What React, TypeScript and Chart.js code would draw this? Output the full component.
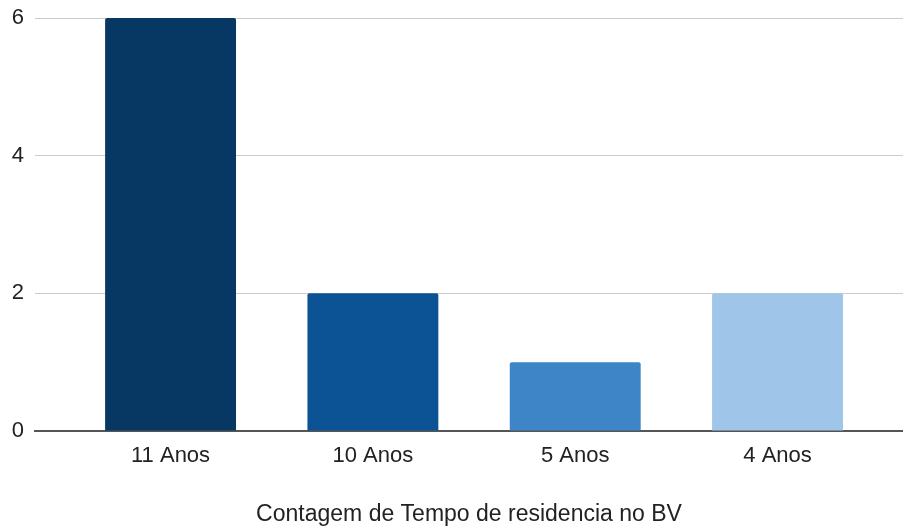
import React, { useEffect, useRef } from "react";
import { Chart, registerables } from "chart.js";

Chart.register(...registerables);

const categories = ["11 Anos", "10 Anos", "5 Anos", "4 Anos"];
const counts = [6, 2, 1, 2];
const barColors = ["#073763", "#0b5394", "#3d85c6", "#9fc5e8"];
const yTicks = [0, 2, 4, 6];
const xTitle = "Contagem de Tempo de residencia no BV";

const FONT = "'Liberation Sans', Arial, sans-serif";

export default function App() {
  const ref = useRef<HTMLCanvasElement | null>(null);

  useEffect(() => {
    if (!ref.current) return;
    const chart = new Chart(ref.current, {
      type: "bar",
      data: {
        datasets: [
          {
            data: counts.map((v, i) => ({ x: i, y: v })),
            backgroundColor: barColors,
            borderRadius: 2,
            categoryPercentage: 1,
            barPercentage: 0.647,
          },
        ],
      },
      options: {
        animation: false,
        responsive: true,
        maintainAspectRatio: false,
        layout: { padding: { top: 18, left: 0, right: 0, bottom: 0 } },
        plugins: { legend: { display: false }, tooltip: { enabled: false } },
        scales: {
          x: {
            type: "linear",
            offset: false,
            min: -0.67,
            max: 3.62,
            afterBuildTicks: (scale: any) => {
              scale.ticks = categories.map((_, i) => ({ value: i }));
            },
            afterFit: (scale: any) => {
              scale.height = 97;
              scale.paddingLeft = 0;
              scale.paddingRight = 0;
            },
            grid: { display: false, drawTicks: false, offset: false },
            border: { display: true, color: "#555555", width: 2 },
            ticks: {
              padding: 12,
              color: "#222222",
              font: { family: FONT, size: 22 },
              callback: (v: any) => categories[Math.round(Number(v))] ?? "",
            },
            title: {
              display: true,
              text: xTitle,
              color: "#222222",
              font: { family: FONT, size: 23 },
              padding: { top: 0, bottom: 0 },
            },
          },
          y: {
            min: 0,
            max: 6,
            afterBuildTicks: (scale: any) => {
              scale.ticks = yTicks.map((v) => ({ value: v }));
            },
            afterFit: (scale: any) => {
              scale.width = 35;
              scale.paddingTop = 0;
              scale.paddingBottom = 0;
            },
            grid: { color: "#cccccc", lineWidth: 1, drawTicks: false },
            border: { display: false },
            ticks: {
              padding: 11,
              color: "#222222",
              font: { family: FONT, size: 22 },
            },
          },
        },
      },
    });
    return () => chart.destroy();
  }, []);

  return (
    <div style={{ position: "fixed", left: 0, top: 0, width: 903, height: 528 }}>
      <canvas ref={ref} />
    </div>
  );
}
